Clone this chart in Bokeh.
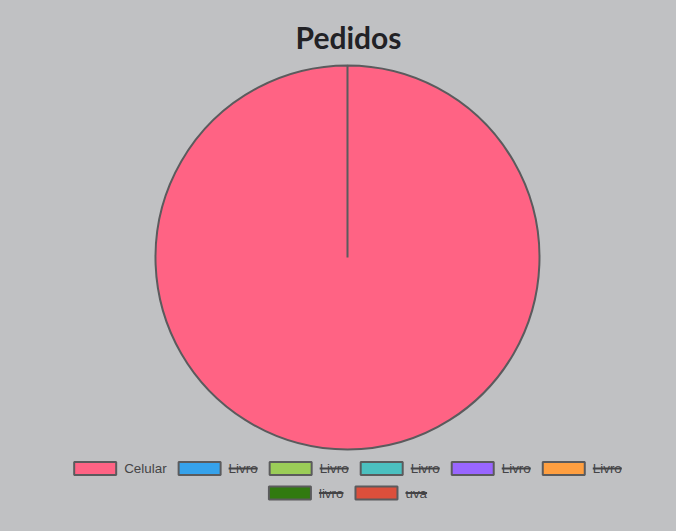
from bokeh.plotting import figure
from bokeh.models import Range1d, ColumnDataSource
from bokeh.core.properties import value
from bokeh.embed import file_html
from bokeh.resources import INLINE
import math

# ---- data ----
title = "Pedidos"
labels = ["Celular", "Livro", "Livro", "Livro", "Livro", "Livro", "livro", "uva"]
values = [5, 1, 1, 1, 1, 1, 1, 1]
hidden = [False, True, True, True, True, True, True, True]
colors = ["#ff6384", "#36a2eb", "#9bcd58", "#4bc0c0", "#9966ff", "#ff9f40", "#317a10", "#dc4f3b"]

BG = "#c0c1c3"
BORDER = "#5b5b5d"
TEXT = "#444446"

W, H = 676, 531
p = figure(width=W, height=H, output_backend="svg", toolbar_location=None,
           x_range=Range1d(0, W), y_range=Range1d(0, H),
           min_border=0, background_fill_color=BG, border_fill_color=BG,
           outline_line_color=None)
p.axis.visible = False
p.grid.visible = False

def Y(page_y):
    return H - page_y

# ---- pie ----
cx, cy, r = 347, Y(257), 192
total = sum(v for v, h in zip(values, hidden) if not h)
start = math.pi / 2
ws = dict(x=[], y=[], s=[], e=[], c=[])
for v, h, c in zip(values, hidden, colors):
    if h:
        continue
    ang = min(2 * math.pi * v / total, 2 * math.pi - 1e-4)
    ws["x"].append(cx); ws["y"].append(cy)
    ws["s"].append(start); ws["e"].append(start - ang); ws["c"].append(c)
    start -= ang
p.wedge(x="x", y="y", radius=r, start_angle="s", end_angle="e", direction="clock",
        fill_color="c", line_color=BORDER, line_width=2, source=ColumnDataSource(ws))

# ---- title ----
p.text(x=[348], y=[Y(36.5)], text=[title], text_font=value("Lato"), text_font_style="bold",
       text_font_size="30px", text_color="#222226", text_align="center", text_baseline="middle")

# ---- legend (Chart.js-like, with strike-through for hidden items) ----
FS = 13.4
metrics = {"C": 722, "e": 556, "l": 222, "u": 556, "a": 556, "r": 333, "L": 556,
           "i": 222, "v": 500, "o": 556}
def tw(s):
    return sum(metrics.get(ch, 556) for ch in s) / 1000 * FS

BOXW, BOXH, GAP_T, PAD = 42, 13, 7, 11
items = []
for lab in labels:
    items.append(BOXW + 2 + GAP_T + tw(lab))
rows, cur, curw = [], [], 0
for i, w in enumerate(items):
    add = w if not cur else w + PAD
    if cur and curw + add > 600:
        rows.append(cur); cur, curw = [], 0; add = w
    cur.append(i); curw += add
rows.append(cur)

bx, by, bc = [], [], []
tx, ty, tt = [], [], []
sx0, sx1, sy = [], [], []
row_y = [468, 492.5]
for ri, row in enumerate(rows):
    rw = sum(items[i] for i in row) + PAD * (len(row) - 1)
    x = 347 - rw / 2
    yy = Y(row_y[ri])
    for i in row:
        bx.append(x + (BOXW + 2) / 2); by.append(yy); bc.append(colors[i])
        t0 = x + BOXW + 2 + GAP_T
        tx.append(t0); ty.append(yy); tt.append(labels[i])
        if hidden[i]:
            sx0.append(t0); sx1.append(t0 + tw(labels[i])); sy.append(yy)
        x += items[i] + PAD

p.rect(x=bx, y=by, width=BOXW, height=BOXH, fill_color=bc, line_color=BORDER, line_width=2)
p.text(x=tx, y=ty, text=tt, text_font=value("Liberation Sans"), text_font_size=f"{FS}px",
       text_color=TEXT, text_align="left", text_baseline="middle")
p.segment(x0=sx0, y0=sy, x1=sx1, y1=sy, line_color=TEXT, line_width=2)

html = file_html(p, INLINE)
html = html.replace("</head>", f"<style>html,body{{background-color:{BG};margin:0;padding:0;overflow:hidden}}</style></head>", 1)
open("out.html", "w").write(html)
